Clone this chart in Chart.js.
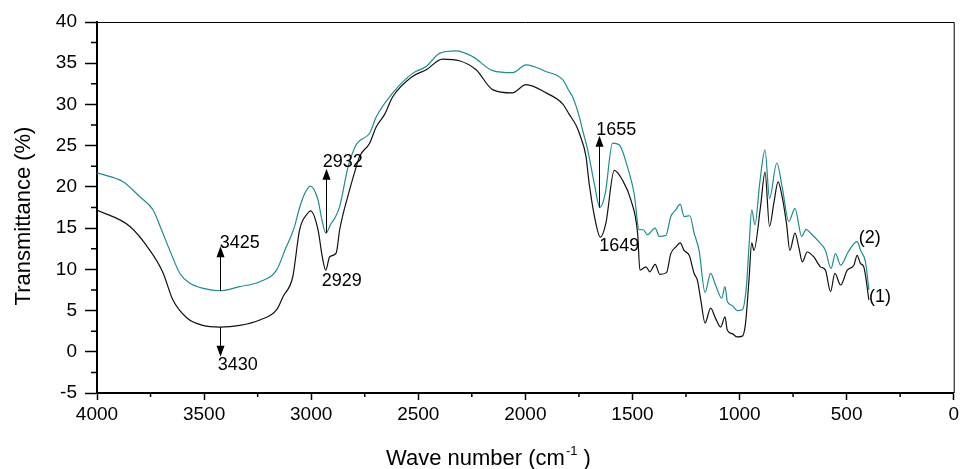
<!DOCTYPE html>
<html>
<head>
<meta charset="utf-8">
<script src="https://cdn.jsdelivr.net/npm/chart.js@4.4.1/dist/chart.umd.min.js"></script>
<style>
  body { margin: 0; background: #fff; }
  #box { width: 962px; height: 469px; position: relative; }
</style>
</head>
<body>
<div id="box"><canvas id="ftir"></canvas></div>
<script>
// sample (1) - black
var wave1 = [4000,3846,3753,3692,3646,3580,3506,3427,3333,3240,3161,3131,3086,3054,3016,3003,2968,2948,2932,2914,2883,2867,2821,2790,2774,2727,2696,2657,2620,2527,2463,2387,2308,2230,2153,2061,1997,1903,1827,1795,1764,1748,1717,1702,1671,1650,1624,1585,1546,1507,1476,1465,1437,1419,1394,1372,1341,1321,1298,1277,1259,1235,1212,1197,1181,1161,1135,1112,1088,1068,1057,1034,1011,987,972,956,943,933,902,881,860,840,820,801,781,765,741,722,707,684,653,622,599,575,555,528,497,466,451,435,420,396]
var trans1 = [17.2,15.2,12.3,9.6,6.3,4.1,3.2,3.0,3.2,3.85,5.1,6.7,9.1,14.8,16.8,17.1,14.8,11.5,9.9,11.5,12.0,14.8,19.6,22.4,23.7,25.3,27.3,28.8,30.9,33.4,34.2,35.5,35.3,34.2,31.8,31.4,32.4,31.4,30.1,28.8,27.5,26.5,23.7,20.4,15.6,13.9,15.6,22.0,20.8,18.4,14.4,9.9,10.3,9.7,10.6,9.4,9.6,11.9,12.7,13.2,12.3,11.7,9.5,8.7,6.3,3.5,5.3,4.05,3.0,4.25,2.6,2.2,1.8,1.9,3.45,8.7,13.2,12.3,17.6,21.8,15.2,18.0,20.6,18.8,15.6,12.3,14.4,12.5,10.9,12.1,11.5,10.3,9.9,7.3,9.5,8.1,9.9,10.5,11.7,10.7,10.3,6.3]

// sample (2) - teal
var wave2 = [4000,3877,3800,3738,3699,3660,3613,3566,3504,3427,3333,3240,3162,3120,3080,3054,3030,3004,2968,2950,2932,2906,2890,2867,2828,2790,2774,2727,2696,2619,2525,2463,2401,2323,2246,2152,2059,1997,1904,1826,1795,1779,1748,1733,1709,1678,1652,1627,1593,1562,1523,1492,1469,1450,1430,1394,1375,1344,1321,1298,1277,1259,1232,1212,1189,1161,1135,1112,1083,1068,1057,1034,1011,987,968,956,943,928,906,881,860,826,801,770,741,710,689,669,630,599,573,552,528,493,451,435,412,396]
var trans2 = [21.7,20.6,18.8,17.2,14.8,12.3,9.5,8.3,7.7,7.4,7.9,8.5,9.9,12.5,15.0,17.5,19.2,20.1,18.4,16.0,14.4,15.6,16.2,17.6,22.4,25.1,25.6,26.5,28.5,31.4,33.8,34.6,36.2,36.5,35.8,34.1,33.85,34.8,34.0,33.0,31.6,30.9,28.5,26.9,24.5,20.4,17.5,19.2,25.3,25.1,22.4,19.2,14.8,14.8,14.2,15.0,14.0,14.1,16.4,17.2,17.9,16.4,16.5,14.4,12.3,7.2,9.5,8.1,6.5,7.9,6.1,5.6,5.0,5.1,7.9,12.7,17.2,15.4,20.4,24.5,18.6,22.9,20.0,15.8,17.4,14.0,14.85,14.4,13.35,12.3,10.1,11.9,10.5,12.1,13.35,12.3,10.9,7.5]

// peak labels and arrows (in data units)
var peakText = ['3425','3430','2932','2929','1655','1649','(2)','(1)']
var peakTextX = [3427,3436,2946,2951,1669,1655,443,396]
var peakTextY = [13.2,-1.6,23.0,8.6,26.9,12.8,13.8,6.6]
var arrowX = [3427,3427,2932,1655]
var arrowFrom = [7.4,3.0,14.4,17.5]
var arrowTo = [12.8,-0.6,22.2,26.2]

var xTitle = ['Wave number (cm', '-1', ' )']
var yTitle = 'Transmittance (%)'

function pts(w, t) {
  var out = []
  for (var i = 0; i < w.length; i++) out.push({x: w[i], y: t[i]})
  return out
}

var FONT = '"Liberation Sans", Arial, sans-serif'

var extras = {
  id: 'extras',
  afterDraw: function(chart) {
    var c = chart.ctx, xs = chart.scales.x, ys = chart.scales.y, a = chart.chartArea
    c.save()
    // thin top/right frame
    c.strokeStyle = '#000'
    c.lineWidth = 1
    c.beginPath()
    c.moveTo(a.left, a.top + 0.5); c.lineTo(a.right + 0.5, a.top + 0.5); c.lineTo(a.right + 0.5, a.bottom)
    c.stroke()
    // minor ticks
    c.lineWidth = 1.5
    c.beginPath()
    for (var v = -2.5; v < 40; v += 5) {
      var py = ys.getPixelForValue(v)
      c.moveTo(a.left - 6, py); c.lineTo(a.left, py)
    }
    for (var w = 250; w < 4000; w += 500) {
      var px = xs.getPixelForValue(w)
      c.moveTo(px, a.bottom); c.lineTo(px, a.bottom + 4)
    }
    c.stroke()
    // arrows
    c.lineWidth = 1
    c.fillStyle = '#000'
    for (var i = 0; i < arrowX.length; i++) {
      var x = Math.round(xs.getPixelForValue(arrowX[i])) + 0.5
      var y0 = ys.getPixelForValue(arrowFrom[i])
      var y1 = ys.getPixelForValue(arrowTo[i])
      var dir = y1 < y0 ? 1 : -1
      c.beginPath(); c.moveTo(x, y0); c.lineTo(x, y1 + dir * 10); c.stroke()
      c.beginPath(); c.moveTo(x, y1); c.lineTo(x - 4, y1 + dir * 11); c.lineTo(x + 4, y1 + dir * 11); c.closePath(); c.fill()
    }
    // labels
    c.font = '18px ' + FONT
    c.textAlign = 'left'
    c.textBaseline = 'middle'
    for (var j = 0; j < peakText.length; j++) {
      c.fillText(peakText[j], xs.getPixelForValue(peakTextX[j]), ys.getPixelForValue(peakTextY[j]))
    }
    // axis titles
    c.textBaseline = 'alphabetic'
    c.font = '22px ' + FONT
    var tx = 386, base = 465
    c.fillText(xTitle[0], tx, base)
    tx += c.measureText(xTitle[0]).width + 1
    c.font = '13px ' + FONT
    c.fillText(xTitle[1], tx, base - 10)
    tx += c.measureText(xTitle[1]).width
    c.font = '22px ' + FONT
    c.fillText(xTitle[2], tx, base)
    c.translate(30, 216)
    c.rotate(-Math.PI / 2)
    c.textAlign = 'center'
    c.fillText(yTitle, 0, 0)
    c.restore()
  }
}

new Chart(document.getElementById('ftir'), {
  type: 'line',
  data: {
    datasets: [{
      label: '(1)',
      data: pts(wave1, trans1),
      borderColor: '#111',
      borderWidth: 1.2,
      pointRadius: 0,
      cubicInterpolationMode: 'monotone',
      fill: false
    }, {
      label: '(2)',
      data: pts(wave2, trans2),
      borderColor: '#1b8c8f',
      borderWidth: 1.2,
      pointRadius: 0,
      cubicInterpolationMode: 'monotone',
      fill: false
    }]
  },
  options: {
    responsive: true,
    maintainAspectRatio: false,
    animation: false,
    layout: { padding: { left: 0, top: 22, right: 7, bottom: 0 } },
    plugins: { legend: { display: false }, tooltip: { enabled: false } },
    scales: {
      x: {
        type: 'linear',
        reverse: true,
        min: 0, max: 4000,
        afterFit: function(s) { s.height = 76 },
        ticks: { stepSize: 500, color: '#000', font: { family: FONT, size: 19 }, padding: 3, maxRotation: 0,
          callback: function(v) { return String(v) } },
        grid: { drawOnChartArea: false, color: '#000', tickLength: 7, tickWidth: 1.5 },
        border: { color: '#000', width: 2 }
      },
      y: {
        min: -5, max: 40,
        afterFit: function(s) { s.width = 97 },
        ticks: { stepSize: 5, color: '#000', font: { family: FONT, size: 19 }, padding: 8,
          callback: function(v) { return String(v) } },
        grid: { drawOnChartArea: false, color: '#000', tickLength: 12, tickWidth: 1.5 },
        border: { color: '#000', width: 2 }
      }
    }
  },
  plugins: [extras]
})
</script>
</body>
</html>
